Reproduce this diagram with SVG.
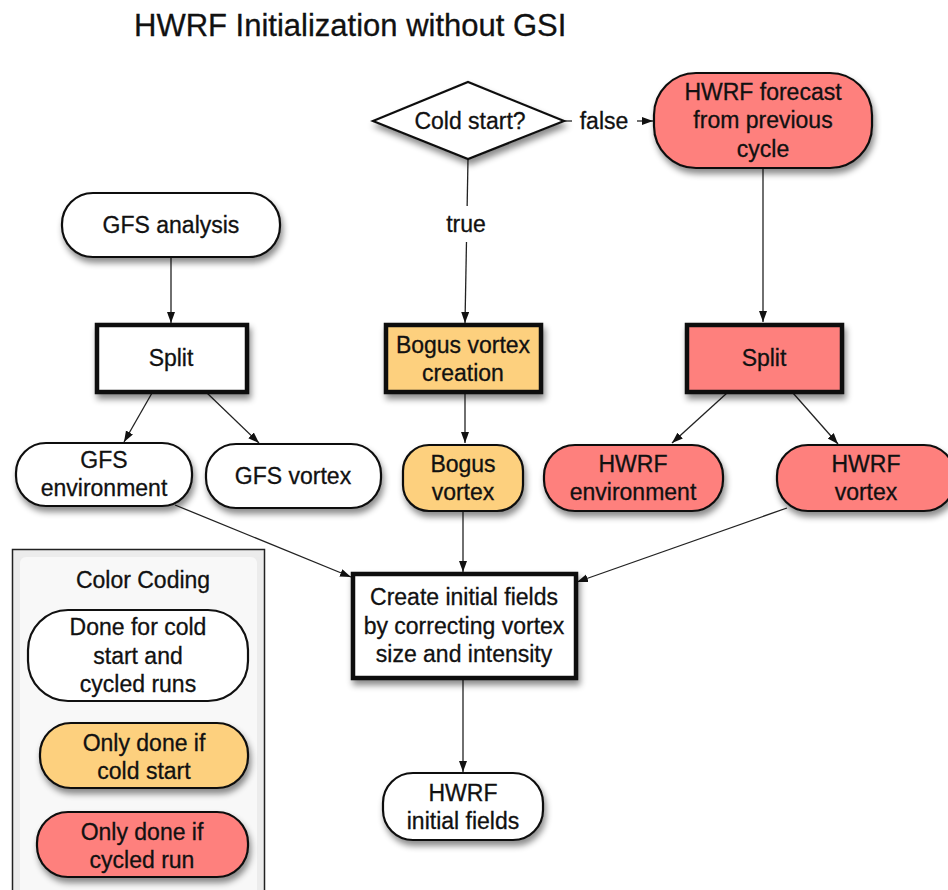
<svg xmlns="http://www.w3.org/2000/svg" width="948" height="890" viewBox="0 0 948 890">
<defs>
<style>
text{font-family:"Liberation Sans",Arial,sans-serif;font-size:23px;fill:#111;stroke:#111;stroke-width:0.3;text-anchor:middle}
.title{font-size:31px;text-anchor:start}
.rn{stroke:#111;stroke-width:2.2}
.bx{stroke:#111;stroke-width:4.5}
.w{fill:#fff}
.o{fill:#FDD07E}
.r{fill:#FE807D}
.c{stroke:#222;stroke-width:1.3;fill:none}
</style>
<filter id="sh" x="-20%" y="-20%" width="140%" height="160%">
<feDropShadow dx="2" dy="5" stdDeviation="3" flood-color="#000" flood-opacity="0.45"/>
</filter>
<marker id="ah" markerUnits="userSpaceOnUse" markerWidth="12" markerHeight="10" refX="11" refY="4" orient="auto">
<path d="M0,0 L11,4 L0,8 Z" fill="#111"/>
</marker>
</defs>
<rect width="948" height="890" fill="#fff"/>
<text class="title" x="134" y="36">HWRF Initialization without GSI</text>

<g id="connectors">
<line class="c" x1="564" y1="121" x2="572" y2="121"/>
<line class="c" x1="637" y1="121" x2="653" y2="121" marker-end="url(#ah)"/>
<line class="c" x1="468" y1="159" x2="465" y2="323" marker-end="url(#ah)"/>
<line class="c" x1="171" y1="257" x2="171" y2="323" marker-end="url(#ah)"/>
<line class="c" x1="763" y1="168" x2="763" y2="322" marker-end="url(#ah)"/>
<line class="c" x1="152" y1="393" x2="124" y2="442" marker-end="url(#ah)"/>
<line class="c" x1="207" y1="393" x2="259" y2="443" marker-end="url(#ah)"/>
<line class="c" x1="465" y1="393" x2="465" y2="443" marker-end="url(#ah)"/>
<line class="c" x1="727" y1="393" x2="672" y2="443" marker-end="url(#ah)"/>
<line class="c" x1="793" y1="393" x2="838" y2="444" marker-end="url(#ah)"/>
<line class="c" x1="175" y1="505" x2="351" y2="577" marker-end="url(#ah)"/>
<line class="c" x1="463" y1="512" x2="463" y2="572" marker-end="url(#ah)"/>
<line class="c" x1="787" y1="508" x2="577" y2="582" marker-end="url(#ah)"/>
<line class="c" x1="463" y1="679" x2="463" y2="772" marker-end="url(#ah)"/>
<rect x="440" y="206" width="52" height="36" fill="#fff"/>
<text x="466" y="232">true</text>
<text x="604" y="129">false</text>
</g>

<g id="cold-start">
<polygon points="373,121 468,82 564,121 468,159" class="w rn" filter="url(#sh)"/>
<text x="470" y="129">Cold start?</text>
</g>
<g id="hwrf-forecast">
<rect x="654" y="73" width="218" height="95" rx="42" class="r rn" filter="url(#sh)"/>
<text x="763" y="99.5">HWRF forecast</text>
<text x="763" y="128">from previous</text>
<text x="763" y="156.5">cycle</text>
</g>
<g id="gfs-analysis">
<rect x="62" y="193" width="218" height="64" rx="31" class="w rn" filter="url(#sh)"/>
<text x="171" y="233">GFS analysis</text>
</g>
<g id="gfs-split">
<rect x="97" y="325" width="150" height="67" class="w bx" filter="url(#sh)"/>
<text x="171" y="366">Split</text>
</g>
<g id="bogus-creation">
<rect x="386" y="325" width="155" height="67" class="o bx" filter="url(#sh)"/>
<text x="463" y="353">Bogus vortex</text>
<text x="463" y="381">creation</text>
</g>
<g id="hwrf-split">
<rect x="687" y="325" width="155" height="67" class="r bx" filter="url(#sh)"/>
<text x="764" y="366">Split</text>
</g>
<g id="gfs-environment">
<rect x="16" y="443" width="176" height="63" rx="30" class="w rn" filter="url(#sh)"/>
<text x="104" y="468">GFS</text>
<text x="104" y="496">environment</text>
</g>
<g id="gfs-vortex">
<rect x="206" y="444" width="175" height="64" rx="30" class="w rn" filter="url(#sh)"/>
<text x="293" y="484">GFS vortex</text>
</g>
<g id="bogus-vortex">
<rect x="403" y="445" width="120" height="66" rx="26" class="o rn" filter="url(#sh)"/>
<text x="463" y="472">Bogus</text>
<text x="463" y="500">vortex</text>
</g>
<g id="hwrf-environment">
<rect x="544" y="445" width="179" height="66" rx="31" class="r rn" filter="url(#sh)"/>
<text x="633" y="472">HWRF</text>
<text x="633" y="500">environment</text>
</g>
<g id="hwrf-vortex">
<rect x="777" y="445" width="178" height="66" rx="31" class="r rn" filter="url(#sh)"/>
<text x="866" y="472">HWRF</text>
<text x="866" y="500">vortex</text>
</g>
<g id="create-initial">
<rect x="353" y="574" width="223" height="104" class="w bx" filter="url(#sh)"/>
<text x="464" y="605">Create initial fields</text>
<text x="464" y="633.5">by correcting vortex</text>
<text x="464" y="662">size and intensity</text>
</g>
<g id="hwrf-initial">
<rect x="383" y="773" width="160" height="67" rx="30" class="w rn" filter="url(#sh)"/>
<text x="463" y="801">HWRF</text>
<text x="463" y="829">initial fields</text>
</g>

<g id="legend">
<rect x="12.5" y="549.5" width="252" height="360" fill="#ececec" stroke="#222" stroke-width="1.5"/>
<rect x="20" y="557" width="237" height="345" rx="6" fill="#f8f8f8"/>
<text x="143" y="588">Color Coding</text>
<g id="legend-white">
<rect x="28" y="610" width="220" height="91" rx="40" class="w rn"/>
<text x="138" y="635">Done for cold</text>
<text x="138" y="663.5">start and</text>
<text x="138" y="692">cycled runs</text>
</g>
<g id="legend-orange">
<rect x="40" y="723" width="208" height="65" rx="31" class="o rn" filter="url(#sh)"/>
<text x="144" y="751">Only done if</text>
<text x="144" y="779">cold start</text>
</g>
<g id="legend-red">
<rect x="37" y="812" width="211" height="65" rx="31" class="r rn" filter="url(#sh)"/>
<text x="142" y="840">Only done if</text>
<text x="142" y="868">cycled run</text>
</g>
</g>
</svg>
